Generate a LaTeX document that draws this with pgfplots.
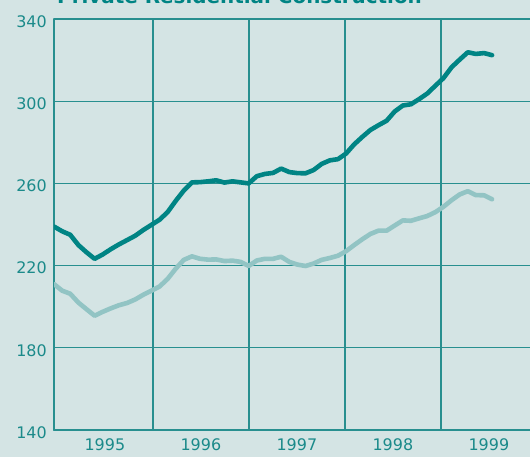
\documentclass[border=0pt]{standalone}
\usepackage{fontspec}
\setmainfont{DejaVu Sans}
\usepackage{pgfplots}
\pgfplotsset{compat=1.18}
\definecolor{bg}{HTML}{D4E4E4}
\definecolor{grd}{HTML}{288F8F}
\definecolor{darkl}{HTML}{008484}
\definecolor{lightl}{HTML}{92C4C4}
\definecolor{txt}{HTML}{1B8A8A}
\begin{document}
\begin{tikzpicture}[x=1bp,y=1bp]
\fill[bg] (-54,-27) rectangle (476,430);
\begin{axis}[
  at={(0,0)}, anchor=south west,
  scale only axis, width=480bp, height=411bp,
  xmin=1994.97, xmax=1999.97, ymin=140, ymax=340,
  axis x line=bottom, axis y line=left,
  axis line style={-, grd, line width=1.6bp},
  ytick={140,180,...,340}, ymajorgrids,
  xtick={1995.5,1996.5,1997.5,1998.5,1999.5},
  xticklabels={1995,1996,1997,1998,1999},
  minor xtick={1996,1997,1998,1999}, xminorgrids,
  major grid style={grd, line width=1.3bp},
  minor grid style={grd, line width=1.3bp},
  major tick length=0pt, minor tick length=0pt,
  tick label style={txt, font=\fontsize{16}{16}\selectfont},
  /pgf/number format/assume math mode=true,
  /pgf/number format/1000 sep={},
  yticklabel style={anchor=east, xshift=-3.7bp, yshift=-2.5bp},
  xticklabel style={anchor=north, yshift=-4.7bp},
  line join=round, line cap=round,
]
\addplot[lightl, line width=4.6bp, mark=none] coordinates {
(1994.970,211.0) (1995.055,207.8) (1995.139,206.3) (1995.224,202.0) (1995.308,198.8)
(1995.393,195.6) (1995.477,197.5) (1995.562,199.2) (1995.646,200.7) (1995.731,201.8)
(1995.815,203.5) (1995.900,205.8) (1995.984,207.8) (1996.069,209.8) (1996.153,213.5)
(1996.238,218.5) (1996.322,222.8) (1996.407,224.5) (1996.491,223.3) (1996.576,222.9)
(1996.660,223.0) (1996.745,222.2) (1996.829,222.4) (1996.914,221.8) (1996.998,219.8)
(1997.083,222.5) (1997.167,223.3) (1997.252,223.3) (1997.336,224.3) (1997.421,221.8)
(1997.505,220.5) (1997.590,219.8) (1997.674,221.0) (1997.759,222.8) (1997.843,223.7)
(1997.928,224.8) (1998.012,227.0) (1998.097,230.0) (1998.181,232.8) (1998.266,235.4)
(1998.350,237.0) (1998.435,237.0) (1998.519,239.5) (1998.604,242.0) (1998.688,241.8)
(1998.773,243.0) (1998.857,244.1) (1998.942,246.0) (1999.026,248.6) (1999.111,251.8)
(1999.195,254.6) (1999.280,256.2) (1999.364,254.3) (1999.449,254.2) (1999.533,252.3)
};
\addplot[darkl, line width=4.6bp, mark=none] coordinates {
(1994.970,239.0) (1995.055,236.7) (1995.139,235.0) (1995.224,230.0) (1995.308,226.5)
(1995.393,223.3) (1995.477,225.4) (1995.562,228.0) (1995.646,230.3) (1995.731,232.4)
(1995.815,234.5) (1995.900,237.3) (1995.984,239.8) (1996.069,242.3) (1996.153,246.0)
(1996.238,251.5) (1996.322,256.5) (1996.407,260.5) (1996.491,260.6) (1996.576,261.0)
(1996.660,261.5) (1996.745,260.4) (1996.829,261.0) (1996.914,260.5) (1996.998,260.0)
(1997.083,263.5) (1997.167,264.6) (1997.252,265.1) (1997.336,267.2) (1997.421,265.5)
(1997.505,265.0) (1997.590,264.9) (1997.674,266.5) (1997.759,269.5) (1997.843,271.2)
(1997.928,271.8) (1998.012,274.5) (1998.097,279.0) (1998.181,282.6) (1998.266,286.0)
(1998.350,288.3) (1998.435,290.5) (1998.519,295.0) (1998.604,297.9) (1998.688,298.5)
(1998.773,301.0) (1998.857,303.7) (1998.942,307.5) (1999.026,311.2) (1999.111,316.5)
(1999.195,320.2) (1999.280,323.8) (1999.364,323.0) (1999.449,323.4) (1999.533,322.4)
};
\end{axis}
\node[anchor=base west, inner sep=0pt, text=darkl, font=\fontsize{20}{20}\selectfont\bfseries] at (3,426) {Private Residential Construction};
\pgfresetboundingbox
\useasboundingbox (-54,-27) rectangle (476,430);
\end{tikzpicture}
\end{document}
